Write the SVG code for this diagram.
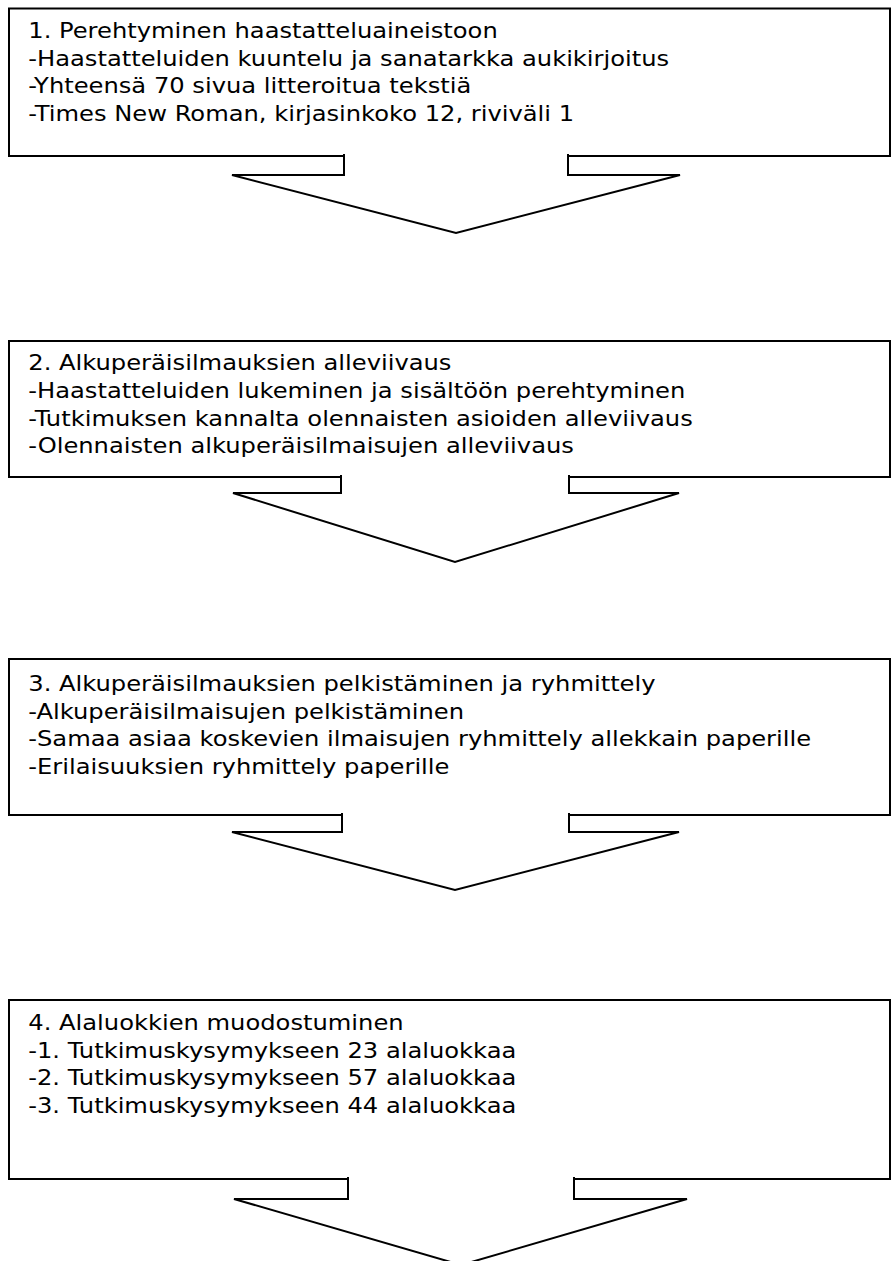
<svg xmlns="http://www.w3.org/2000/svg" width="892" height="1261" viewBox="0 0 892 1261">
<style>
.box{fill:#fff;stroke:#000;stroke-width:2}
.arr{fill:#fff;stroke:#000;stroke-width:2;stroke-linejoin:miter}
.t{font-family:"DejaVu Sans","Liberation Sans",sans-serif;font-size:22px;fill:#000}
</style>
<rect width="892" height="1261" fill="#fff"/>
<g id="node1">
<rect class="box" x="9" y="8.5" width="881" height="147.5"/>
<g class="t" transform="scale(1.1,1)">
<text x="25.7" y="38">1. Perehtyminen haastatteluaineistoon</text>
<text x="25.7" y="65.7">-Haastatteluiden kuuntelu ja sanatarkka aukikirjoitus</text>
<text x="25.7" y="93.4">-Yhteensä 70 sivua litteroitua tekstiä</text>
<text x="25.7" y="121.1">-Times New Roman, kirjasinkoko 12, riviväli 1</text>
</g>
</g>
<g id="node2">
<rect class="box" x="9" y="341" width="881" height="136"/>
<g class="t" transform="scale(1.1,1)">
<text x="25.7" y="370.3">2. Alkuperäisilmauksien alleviivaus</text>
<text x="25.7" y="398">-Haastatteluiden lukeminen ja sisältöön perehtyminen</text>
<text x="25.7" y="425.7">-Tutkimuksen kannalta olennaisten asioiden alleviivaus</text>
<text x="25.7" y="453.4">-Olennaisten alkuperäisilmaisujen alleviivaus</text>
</g>
</g>
<g id="node3">
<rect class="box" x="9" y="659" width="881" height="156"/>
<g class="t" transform="scale(1.1,1)">
<text x="25.7" y="691">3. Alkuperäisilmauksien pelkistäminen ja ryhmittely</text>
<text x="25.7" y="718.7">-Alkuperäisilmaisujen pelkistäminen</text>
<text x="25.7" y="746.4">-Samaa asiaa koskevien ilmaisujen ryhmittely allekkain paperille</text>
<text x="25.7" y="774.1">-Erilaisuuksien ryhmittely paperille</text>
</g>
</g>
<g id="node4">
<rect class="box" x="9" y="1000" width="881" height="179"/>
<g class="t" transform="scale(1.1,1)">
<text x="25.7" y="1030">4. Alaluokkien muodostuminen</text>
<text x="25.7" y="1057.7">-1. Tutkimuskysymykseen 23 alaluokkaa</text>
<text x="25.7" y="1085.4">-2. Tutkimuskysymykseen 57 alaluokkaa</text>
<text x="25.7" y="1113.1">-3. Tutkimuskysymykseen 44 alaluokkaa</text>
</g>
</g>
<g id="connectors">
<path class="arr" d="M344,154 V175 H232 L456,233 L680,175 H568 V154"/>
<path class="arr" d="M341,475 V493 H233 L455,562 L679,493 H569 V475"/>
<path class="arr" d="M342,813 V832 H232 L455,890 L679,832 H569 V813"/>
<path class="arr" d="M348,1177 V1199 H234 L461,1265 L687,1199 H574 V1177"/>
</g>
</svg>
